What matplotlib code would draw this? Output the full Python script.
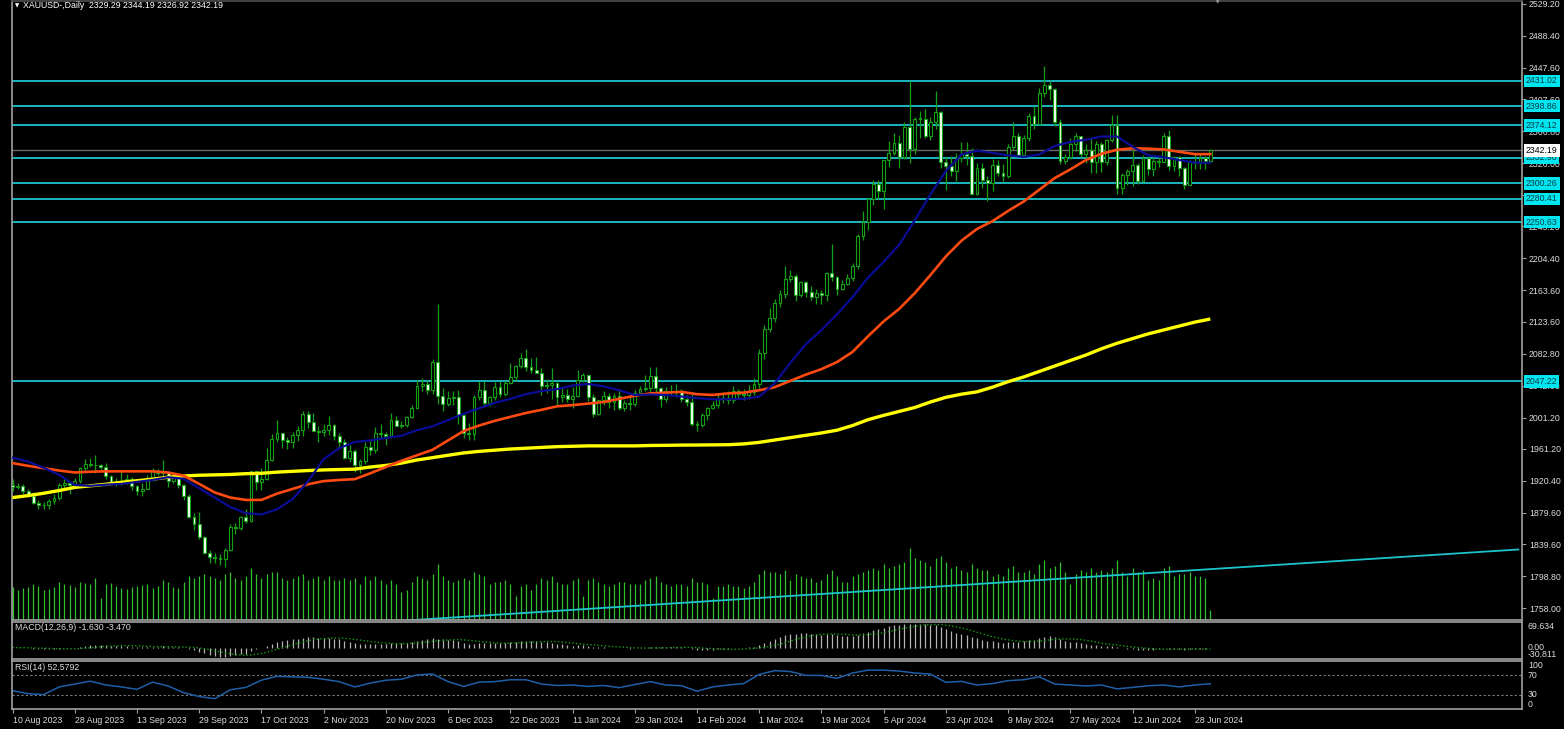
import numpy as np
import pandas as pd
import matplotlib
matplotlib.use("Agg")
import matplotlib.pyplot as plt

# daily XAUUSD bars, 10 Aug 2023 .. 3 Jul 2024
opens = [1914.5, 1912.5, 1913.5, 1907.5, 1901.5, 1892, 1889.5, 1889, 1894.5, 1898, 1915.5, 1917,
         1914.5, 1920.5, 1937, 1942.5, 1940, 1940, 1938.5, 1926, 1916, 1919.5, 1918.5, 1922.5,
         1913.5, 1908, 1910.5, 1924, 1933.5, 1931, 1930, 1920, 1925.5, 1915.5, 1901, 1874.5,
         1865, 1848.5, 1828, 1822.5, 1821.5, 1820.5, 1832.5, 1861, 1860.5, 1874, 1868.5, 1932.5,
         1919.5, 1923, 1947.5, 1974, 1981, 1972.5, 1970.5, 1979, 1985, 2006, 1996, 1983.5,
         1982.5, 1985.5, 1992, 1978, 1970, 1950, 1958, 1940.5, 1946, 1963, 1959.5, 1981,
         1980.5, 1977.5, 1998, 1990, 1992, 2002, 2014, 2041, 2044.5, 2036, 2072, 2029,
         2019, 2025.5, 2028, 2004.5, 1982, 1980, 2027, 2036, 2019.5, 2027, 2040.5, 2031,
         2045, 2053, 2067, 2077.5, 2065.5, 2062.5, 2058.5, 2041, 2043, 2045, 2027.5, 2030.5,
         2024.5, 2029, 2049, 2055, 2028, 2006, 2023, 2029, 2021, 2029, 2014, 2020,
         2018, 2032, 2037, 2039, 2054, 2039, 2025, 2035, 2035, 2034, 2024.5, 2020.5,
         1992.5, 1992, 2004, 2013.5, 2017.5, 2024.5, 2026, 2024, 2035.5, 2031, 2030.5, 2034,
         2044, 2083, 2114.5, 2128, 2148, 2159.5, 2178.5, 2182.5, 2158, 2174.5, 2162, 2155.5,
         2160.5, 2157.5, 2186, 2181, 2165.5, 2172, 2179, 2194.5, 2233, 2250.5, 2280, 2300,
         2290, 2329.5, 2339, 2352, 2333.5, 2372.5, 2344.5, 2383, 2383, 2361, 2379, 2391.5,
         2327, 2322, 2316, 2332, 2337.5, 2335.5, 2286, 2320, 2304, 2301, 2323, 2314,
         2309, 2346, 2360.5, 2336.5, 2358, 2386, 2376.5, 2415, 2425.5, 2420.5, 2379, 2329,
         2334, 2350.5, 2360.5, 2338, 2343, 2327, 2350, 2327, 2355, 2375, 2294, 2310.5,
         2316.5, 2324, 2303, 2333, 2319, 2329, 2328, 2360.5, 2322, 2334, 2319.5, 2298.5,
         2327, 2326.5, 2332, 2329.29]
highs = [1922.5, 1918, 1916, 1910.5, 1906, 1896, 1893, 1897, 1903, 1917, 1922.5, 1920.5,
         1924.5, 1938.5, 1948.5, 1949.5, 1953, 1942.5, 1943, 1928, 1924, 1933, 1929.5, 1925,
         1915, 1917, 1928, 1937, 1936, 1947.5, 1932, 1930.5, 1926.5, 1916.5, 1903, 1879,
         1880, 1850.5, 1832, 1828, 1827.5, 1834, 1865, 1866, 1875, 1885, 1933.5, 1933.5,
         1937, 1962.5, 1980, 1997.5, 1981.5, 1976.5, 1983, 1991, 2009.5, 2009, 2007, 1990,
         1993.5, 2003.5, 1993.5, 1982, 1974, 1965.5, 1961.5, 1948, 1970.5, 1971, 1988.5, 1993,
         1983, 2007.5, 2003, 1997, 2003, 2017.5, 2048.5, 2052, 2048, 2075.5, 2146, 2039,
         2035, 2035.5, 2036, 2005, 1994.5, 2030, 2047.5, 2048, 2029, 2047, 2047.5, 2048,
         2071, 2068.5, 2084, 2088.5, 2077, 2079, 2065, 2051, 2064.5, 2046, 2040, 2038,
         2040, 2062.5, 2058, 2056, 2031, 2024, 2035, 2032, 2033, 2037, 2023, 2029,
         2036, 2042, 2056, 2065.5, 2066, 2040, 2040, 2043, 2044, 2037, 2030, 2031.5,
         1996.5, 2006.5, 2015, 2022, 2031.5, 2033.5, 2034.5, 2041, 2038, 2038, 2043, 2052,
         2088.5, 2119.5, 2141.5, 2152, 2164.5, 2195, 2189, 2184.5, 2175.5, 2176, 2168.5, 2165,
         2164, 2187.5, 2222.5, 2182, 2176.5, 2185, 2199, 2236, 2265.5, 2281, 2304.5, 2305,
         2330.5, 2354, 2365, 2362.5, 2379, 2431.5, 2385, 2392, 2395.5, 2385, 2417.5, 2392,
         2335, 2335, 2339, 2352.5, 2353.5, 2345, 2326, 2326, 2310, 2331, 2330, 2325,
         2351, 2378.5, 2364, 2362, 2390, 2398.5, 2422.5, 2450, 2431.5, 2422.5, 2383, 2338,
         2358.5, 2364.5, 2361, 2351, 2360, 2354, 2353, 2357, 2388, 2387, 2313.5, 2318,
         2342.5, 2326, 2336.5, 2334, 2335, 2334, 2365, 2368.5, 2335, 2335.5, 2320.5, 2330,
         2339, 2339, 2334.5, 2344.19]
lows = [1908, 1910, 1903.5, 1900.5, 1891, 1884, 1885, 1884.5, 1891, 1895.5, 1911, 1904,
        1913, 1917, 1933, 1938.5, 1930, 1935, 1923, 1915.5, 1913.5, 1915, 1916, 1908.5,
        1902, 1901, 1909.5, 1920.5, 1927.5, 1926, 1913, 1918, 1911, 1895.5, 1872.5, 1857.5,
        1846.5, 1827.5, 1815.5, 1815.5, 1813.5, 1810.5, 1831, 1852.5, 1857, 1867, 1867.5, 1908.5,
        1909, 1921.5, 1946, 1969.5, 1962.5, 1961.5, 1962, 1971, 1977.5, 1987.5, 1984, 1970,
        1978, 1979.5, 1972, 1962, 1948, 1945, 1932, 1931, 1942.5, 1953.5, 1956.5, 1975.5,
        1965.5, 1974.5, 1990, 1988, 1989, 2001, 2012.5, 2035, 2031, 2031, 2018, 2009,
        2016, 2017.5, 1993.5, 1975.5, 1972.5, 1973, 2023, 2015, 2016, 2023.5, 2028, 2029,
        2044, 2048, 2064.5, 2060.5, 2058, 2058, 2030, 2033, 2024.5, 2017, 2021, 2021,
        2013.5, 2027.5, 2047, 2022.5, 2001.5, 2004, 2017, 2014, 2011, 2011, 2009, 2011,
        2016, 2030, 2035, 2032, 2030, 2014.5, 2021, 2030.5, 2027.5, 2021, 2016, 1990,
        1984, 1988.5, 1998, 2011.5, 2014, 2020, 2019, 2020, 2024.5, 2024, 2025, 2030,
        2038.5, 2076, 2110, 2123.5, 2142, 2154, 2174.5, 2149.5, 2155.5, 2154.5, 2151, 2146.5,
        2146.5, 2150, 2176, 2157.5, 2163.5, 2170, 2175, 2191, 2228, 2240.5, 2272.5, 2280,
        2268, 2321, 2336, 2319.5, 2331.5, 2326, 2338, 2358.5, 2358, 2355.5, 2369.5, 2320,
        2291.5, 2310, 2303, 2328, 2324, 2285, 2285, 2294, 2277.5, 2291, 2309, 2303.5,
        2306.5, 2343, 2334.5, 2340, 2354.5, 2370, 2376, 2411, 2406, 2373.5, 2325.5, 2325.5,
        2331, 2341, 2334, 2326, 2314, 2314, 2315, 2323, 2353, 2287, 2286.5, 2298,
        2297, 2300, 2302, 2310.5, 2310, 2320.5, 2328, 2317, 2316.5, 2309.5, 2293.5, 2298,
        2318.5, 2318, 2319, 2326.92]
closes = [1912.5, 1913.8, 1907.5, 1901.5, 1892, 1889.5, 1889, 1894.5, 1898, 1915.5, 1917, 1914.5,
          1920.5, 1937, 1942.5, 1940, 1940, 1938.5, 1926, 1916, 1919.5, 1918.5, 1922.5, 1913.5,
          1908, 1910.5, 1924, 1933.5, 1931, 1930, 1920, 1925.5, 1915.5, 1901, 1874.5, 1865,
          1848.5, 1828, 1822.5, 1821.5, 1820.5, 1832.5, 1861, 1860.5, 1874, 1868.5, 1932.5, 1919.5,
          1923, 1947.5, 1974, 1981, 1972.5, 1970.5, 1979, 1985, 2006, 1996, 1983.5, 1982.5,
          1985.5, 1992, 1978, 1970, 1950, 1958, 1940.5, 1946, 1963, 1959.5, 1981, 1980.5,
          1977.5, 1998, 1990, 1992, 2002, 2014, 2041, 2044.5, 2036, 2072, 2029, 2019,
          2025.5, 2028, 2004.5, 1982, 1980, 2027, 2036, 2019.5, 2027, 2040.5, 2031, 2045,
          2053, 2067, 2077.5, 2065.5, 2062.5, 2058.5, 2041, 2043, 2045, 2027.5, 2030.5, 2024.5,
          2029, 2049, 2055, 2028, 2006, 2023, 2029, 2021, 2029, 2014, 2020, 2018,
          2032, 2037, 2039, 2054, 2039, 2025, 2035, 2035, 2034, 2024.5, 2020.5, 1992.5,
          1992, 2004, 2013.5, 2017.5, 2024.5, 2026, 2024, 2035.5, 2031, 2030.5, 2034, 2044,
          2083, 2114.5, 2128, 2148, 2159.5, 2178.5, 2182.5, 2158, 2174.5, 2162, 2155.5, 2160.5,
          2157.5, 2186, 2181, 2165.5, 2172, 2179, 2194.5, 2233, 2250.5, 2280, 2300, 2290,
          2329.5, 2339, 2352, 2333.5, 2372.5, 2344.5, 2383, 2383, 2361, 2379, 2391.5, 2327,
          2322, 2316, 2332, 2337.5, 2335.5, 2286, 2320, 2304, 2301, 2323, 2314, 2309,
          2346, 2360.5, 2336.5, 2358, 2386, 2376.5, 2415, 2425.5, 2420.5, 2379, 2329, 2334,
          2350.5, 2360.5, 2338, 2343, 2327, 2350, 2327, 2355, 2375, 2294, 2310.5, 2316.5,
          2324, 2303, 2333, 2319, 2329, 2328, 2360.5, 2322, 2334, 2319.5, 2298.5, 2327,
          2326.5, 2332, 2329.3, 2342.19]
# tick volume, thousands
volumes = [66, 60, 64, 66, 72, 68, 60, 62, 66, 76, 72, 70,
           66, 76, 74, 72, 84, 44, 72, 74, 68, 64, 62, 66,
           68, 70, 72, 64, 68, 80, 76, 66, 64, 76, 88, 84,
           88, 92, 88, 84, 80, 92, 96, 84, 80, 88, 104, 92,
           84, 92, 96, 96, 84, 80, 84, 88, 92, 80, 84, 88,
           80, 88, 80, 80, 84, 80, 84, 72, 88, 80, 88, 80,
           72, 80, 72, 56, 60, 76, 88, 84, 80, 92, 112, 88,
           80, 76, 80, 84, 80, 96, 92, 88, 72, 76, 76, 80,
           72, 48, 68, 72, 60, 72, 84, 80, 88, 76, 72, 72,
           80, 84, 48, 80, 84, 76, 72, 68, 72, 76, 76, 72,
           72, 72, 80, 84, 88, 76, 72, 68, 72, 72, 68, 84,
           76, 76, 72, 44, 68, 68, 72, 68, 68, 64, 68, 76,
           92, 100, 96, 96, 92, 100, 80, 92, 88, 84, 84, 76,
           80, 92, 100, 88, 76, 76, 88, 92, 96, 100, 104, 100,
           112, 104, 108, 112, 116, 144, 124, 120, 116, 108, 124, 128,
           116, 104, 108, 100, 96, 112, 104, 100, 100, 88, 92, 88,
           104, 108, 96, 96, 100, 92, 112, 120, 104, 108, 116, 96,
           72, 92, 100, 96, 104, 96, 100, 96, 104, 120, 96, 88,
           104, 96, 100, 80, 84, 80, 104, 108, 88, 92, 92, 96,
           88, 88, 84, 20]

# moving averages and RSI, read every 3rd bar
ma_fast = [1950, 1945, 1937, 1928, 1915, 1914, 1915.5, 1916.5, 1919, 1921.5, 1925, 1923,
           1911, 1899, 1887, 1879, 1877.5, 1884, 1897, 1920, 1948, 1962, 1970, 1972,
           1975, 1978, 1985, 1990, 1998, 2006, 2013, 2020, 2025, 2031, 2035, 2037.5,
           2042, 2044, 2041, 2036, 2030, 2030.5, 2030, 2028, 2026, 2024.5, 2024.5, 2025,
           2028, 2045, 2071, 2095, 2113, 2133, 2155, 2180, 2200, 2222, 2253, 2286,
           2316, 2337, 2342, 2339, 2336, 2334, 2337, 2348, 2353, 2356, 2360, 2360,
           2347, 2336, 2333.5, 2330, 2326.5, 2326.5]
ma_mid = [1943, 1939.5, 1936.5, 1933.5, 1931, 1932, 1932.5, 1932.5, 1932.5, 1932.5, 1931, 1927,
          1916.5, 1905.5, 1899, 1896, 1896, 1904, 1910, 1916, 1920, 1921.5, 1922.5, 1930,
          1938, 1946, 1953, 1960, 1972, 1984, 1991, 1997, 2002, 2007, 2011, 2015.5,
          2017, 2019, 2021, 2025, 2029, 2032, 2033, 2034, 2031, 2030, 2032, 2033,
          2036, 2040, 2048, 2056, 2063, 2072, 2085, 2105, 2124, 2140, 2160, 2183,
          2207, 2227, 2242, 2252, 2265, 2277, 2292, 2307, 2318, 2330, 2338, 2343,
          2345, 2344.5, 2343.5, 2340.5, 2337.5, 2337.5]
ma_slow = [1899, 1901.5, 1904.5, 1908, 1912, 1914, 1916, 1918.5, 1920.5, 1922.5, 1925, 1926.5,
           1927.5, 1928, 1928.5, 1929.5, 1930, 1931.5, 1932.5, 1933.5, 1934.3, 1934.8, 1935.3, 1938,
           1940, 1943, 1947, 1950, 1953, 1956, 1958, 1959.5, 1961, 1962, 1963, 1964,
           1964.5, 1965, 1965, 1965, 1965, 1965.5, 1965.7, 1966, 1966.1, 1966.3, 1966.5, 1967.5,
           1969.5, 1972.5, 1975.5, 1978.5, 1981.5, 1985, 1991, 1998.5, 2004, 2009, 2014, 2021,
           2027, 2031, 2034, 2040, 2047, 2053, 2060, 2067, 2074, 2081, 2089, 2096,
           2102, 2108, 2113, 2118, 2123, 2127]
rsi = [38, 32, 30, 46, 52, 58, 50, 46, 41, 56, 48, 34,
       26, 21.5, 40, 45, 60, 68, 67, 66, 62, 57, 46, 54,
       60, 62, 71, 73, 57, 47, 56, 57, 61, 61, 52, 49,
       50, 47, 49, 44.5, 51, 57, 50, 48.5, 37, 46, 50, 53,
       72, 80, 78, 70, 70, 64, 75, 81, 81, 79, 75, 72.8,
       55.5, 57.6, 50, 53, 59, 61, 67, 52, 50, 48, 50, 42,
       45, 48.5, 50, 46, 50, 52.6]

levels = [2431.02, 2398.86, 2374.12, 2332.90, 2300.26, 2280.41, 2250.63, 2047.22]
last_price = 2342.19
trend_bars = [75.8, 290.4]
trend_prices = [1742.0, 1832.7]

price_ticks = [2529.20, 2488.40, 2447.60, 2407.60, 2366.80, 2326.00, 2285.20, 2245.20,
               2204.40, 2163.60, 2123.60, 2082.80, 2042.00, 2001.20, 1961.20, 1920.40,
               1879.60, 1839.60, 1798.80, 1758.00]
date_labels = ["10 Aug 2023", "28 Aug 2023", "13 Sep 2023", "29 Sep 2023", "17 Oct 2023",
               "2 Nov 2023", "20 Nov 2023", "6 Dec 2023", "22 Dec 2023", "11 Jan 2024",
               "29 Jan 2024", "14 Feb 2024", "1 Mar 2024", "19 Mar 2024", "5 Apr 2024",
               "23 Apr 2024", "9 May 2024", "27 May 2024", "12 Jun 2024", "28 Jun 2024"]

W, H = 1564, 729
FONT = "Liberation Sans"
FS = 6.3
GRAY = "#a0a0a0"
TXT = "#dcdcdc"
CANDLE = "#14a014"

fig = plt.figure(figsize=(W / 100, H / 100), dpi=100, facecolor="black")


def px_axes(x0, y0, x1, y1):
    a = fig.add_axes([x0 / W, 1 - y1 / H, (x1 - x0) / W, (y1 - y0) / H])
    a.set_facecolor("black")
    for s in a.spines.values():
        s.set_color(GRAY)
        s.set_linewidth(1.2)
    return a


x = np.arange(len(closes))
xs = np.arange(0, len(closes), 3)
o = np.array(opens)
c = np.array(closes)
xlim = (-0.1, 291.1)

# ---- main window ----
ax = px_axes(12, 1, 1522, 620)
ax.set_xlim(*xlim)
ax.set_ylim(1742.68, 2533.03)
ax.set_xticks([])
ax.spines["top"].set_color("#505050")

axv = ax.twinx()
axv.set_ylim(0, 1238)
axv.axis("off")
axv.vlines(x, 0, volumes, color="#2fbf2f", lw=0.9)
ax.set_zorder(axv.get_zorder() + 1)
ax.patch.set_visible(False)
axv.set_zorder(0)

for lv in levels:
    ax.axhline(lv, color="#1cc4cc", lw=1.3, zorder=2)
ax.axhline(last_price, color="#6a6a6a", lw=1.0, zorder=2)
ax.plot(trend_bars, trend_prices, color="#1cc4cc", lw=1.3, zorder=2)

ax.vlines(x, lows, highs, color=CANDLE, lw=0.9, zorder=3)
bull = c >= o
bottoms = np.minimum(o, c)
heights = np.maximum(np.abs(c - o), 0.6)
ax.bar(x[bull], heights[bull], bottom=bottoms[bull], width=0.55, facecolor="black",
       edgecolor=CANDLE, lw=0.8, zorder=4)
ax.bar(x[~bull], heights[~bull], bottom=bottoms[~bull], width=0.55, facecolor="#f4fff4",
       edgecolor=CANDLE, lw=0.8, zorder=4)

ax.plot(xs, ma_slow, color="#ffff00", lw=2.4, zorder=5, solid_capstyle="butt")
ax.plot(xs, ma_mid, color="#ff4a10", lw=1.9, zorder=5)
ax.plot(xs, ma_fast, color="#0a0c96", lw=1.6, zorder=5)

ax.yaxis.tick_right()
ax.set_yticks(price_ticks)
ax.set_yticklabels([f"{v:.2f}" for v in price_ticks], fontfamily=FONT)
ax.tick_params(axis="y", colors=GRAY, labelcolor=TXT, labelsize=FS, length=3, width=0.8, pad=2)

ytr = ax.get_yaxis_transform()
for lv in levels:
    ax.text(1.0 + 4 / 1510, lv, f"{lv:.2f}", transform=ytr, fontsize=FS, fontfamily=FONT,
            color="#003c46", va="center", ha="left", zorder=10, clip_on=False,
            bbox=dict(boxstyle="square,pad=0.2", fc="#00e6f0", ec="none"))
ax.text(1.0 + 4 / 1510, last_price, f"{last_price:.2f}", transform=ytr, fontsize=FS,
        fontfamily=FONT, color="black", va="center", ha="left", zorder=10, clip_on=False,
        bbox=dict(boxstyle="square,pad=0.2", fc="white", ec="none"))

# ---- MACD window ----
axm = px_axes(12, 622, 1522, 659)
axm.set_xlim(*xlim)
axm.set_ylim(-30.811, 69.634)
cs = pd.Series(closes)
macd = cs.ewm(span=12, adjust=False).mean() - cs.ewm(span=26, adjust=False).mean()
signal = macd.rolling(9, min_periods=1).mean()
axm.vlines(x, 0, macd, color="#b4b4b4", lw=0.9)
axm.plot(x, signal, color="#12a012", lw=1.0, ls=(0, (1, 1.6)))
axm.set_xticks([])
axm.set_yticks([])
mtr = axm.get_yaxis_transform()
for v, s, va in [(69.634, "69.634", "top"), (0.0, "0.00", "center"), (-30.811, "-30.811", "bottom")]:
    axm.text(1.0 + 6 / 1510, v, s, transform=mtr, fontsize=FS, fontfamily=FONT, color=TXT,
             va=va, ha="left", clip_on=False)

# ---- RSI window ----
axr = px_axes(12, 661, 1522, 709)
axr.set_xlim(*xlim)
axr.set_ylim(0, 100)
for lv in (70, 30):
    axr.axhline(lv, color="#7a7a7a", lw=0.8, ls=(0, (2, 2)))
axr.plot(xs, rsi, color="#1f5fa8", lw=1.1)
axr.set_yticks([])
rtr = axr.get_yaxis_transform()
for v, va in [(100, "top"), (70, "center"), (30, "center"), (0, "bottom")]:
    axr.text(1.0 + 6 / 1510, v, str(v), transform=rtr, fontsize=FS, fontfamily=FONT, color=TXT,
             va=va, ha="left", clip_on=False)
axr.set_xticks(np.arange(0, 12 * len(date_labels), 12))
axr.set_xticklabels(date_labels, fontfamily=FONT, ha="left")
axr.tick_params(axis="x", colors=GRAY, labelcolor=TXT, labelsize=FS, length=3, width=0.8, pad=2)

# ---- captions ----
fig.text(23 / W, 1 - 6 / H, f"XAUUSD-,Daily  {opens[-1]:.2f} {highs[-1]:.2f} {lows[-1]:.2f} {closes[-1]:.2f}",
         fontsize=FS, fontfamily=FONT, color="white", va="center", ha="left")
fig.text(15 / W, 1 - 6 / H, "\u25bc", fontsize=4, color="white", va="center", ha="left")
fig.text(15 / W, 1 - 628 / H, "MACD(12,26,9) -1.630 -3.470", fontsize=FS, fontfamily=FONT,
         color=TXT, va="center", ha="left")
fig.text(15 / W, 1 - 667 / H, "RSI(14) 52.5792", fontsize=FS, fontfamily=FONT,
         color=TXT, va="center", ha="left")
fig.text(1218 / W, 1 - 1 / H, "\u25bc", fontsize=5, color="#909090", va="center", ha="center")

fig.savefig("out.png", dpi=100, facecolor="black")
